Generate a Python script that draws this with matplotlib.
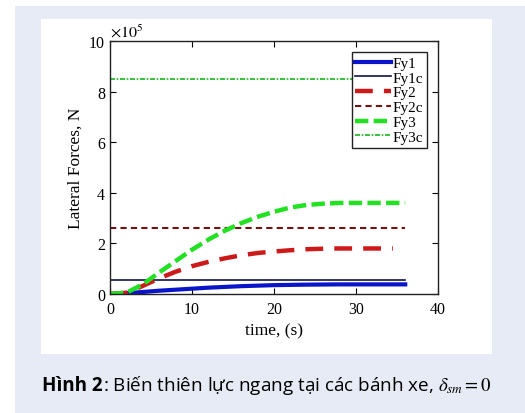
import matplotlib
matplotlib.use('Agg')
import matplotlib.pyplot as plt
from matplotlib.patches import Rectangle
from matplotlib.ticker import FuncFormatter

plt.rcParams['mathtext.fontset'] = 'stix'

# time samples (s) and lateral forces (N)
t = [0, 2, 4, 6, 8, 10, 12, 14, 16, 18, 20, 22, 24, 26, 28, 30, 32, 34, 36]
fy1 = [0, 0.03e5, 0.08e5, 0.13e5, 0.17e5, 0.21e5, 0.25e5, 0.28e5, 0.31e5, 0.33e5,
       0.35e5, 0.36e5, 0.37e5, 0.375e5, 0.38e5, 0.38e5, 0.38e5, 0.38e5, 0.38e5]
fy1c = [0.57e5] * len(t)
t2 = [0, 2, 4, 6, 8, 10, 12, 14, 16, 18, 20, 22, 24, 26, 28, 30, 32, 34.5]
fy2 = [0, 0.05e5, 0.32e5, 0.62e5, 0.88e5, 1.1e5, 1.27e5, 1.41e5, 1.53e5, 1.62e5,
       1.68e5, 1.73e5, 1.77e5, 1.79e5, 1.8e5, 1.8e5, 1.8e5, 1.8e5]
fy2c = [2.6e5] * len(t)
fy3 = [0, 0.05e5, 0.38e5, 0.85e5, 1.3e5, 1.75e5, 2.15e5, 2.5e5, 2.8e5, 3.05e5,
       3.25e5, 3.42e5, 3.52e5, 3.57e5, 3.6e5, 3.6e5, 3.6e5, 3.6e5, 3.6e5]
fy3c = [8.5e5] * len(t)

fig = plt.figure(figsize=(5.25, 4.14), dpi=100)
fig.patch.set_facecolor('white')
W, H = 525, 414
fig.patches.append(Rectangle((15 / W, 0), 1, 1 - 7 / H, transform=fig.transFigure,
                             facecolor='#e7ebf5', edgecolor='none', zorder=-2))
fig.patches.append(Rectangle((41 / W, 1 - 355 / H), 451 / W, 335 / H, transform=fig.transFigure,
                             facecolor='white', edgecolor='none', zorder=-1))

ax = fig.add_axes([110 / W, 1 - 295 / H, 328 / W, 253 / H])
ax.set_zorder(2)
ax.set_facecolor('white')

ax.plot(t, fy1, color='#0a14c8', lw=3.0, label='Fy1')
ax.plot(t, fy1c, color='#12124a', lw=1.2, label='Fy1c')
ax.plot(t2, fy2, color='#cc1a1a', lw=3.2, dashes=(4, 2.5), label='Fy2')
ax.plot(t, fy2c, color='#6e1414', lw=1.5, dashes=(3, 2), label='Fy2c')
ax.plot(t, fy3, color='#22e022', lw=3.2, dashes=(3, 1.2), label='Fy3')
ax.plot(t, fy3c, color='#18b818', lw=1.2, dashes=(3, 1, 1, 1), label='Fy3c')

ax.set_xlim(0, 40)
ax.set_ylim(0, 10e5)
ax.set_xticks([0, 10, 20, 30, 40])
ax.set_yticks([0, 2e5, 4e5, 6e5, 8e5, 10e5])
ax.yaxis.set_major_formatter(FuncFormatter(lambda v, p: f'{v / 1e5:g}'))
ax.tick_params(direction='in', top=True, right=True, length=4, width=0.8,
               labelsize=11.5)
ax.tick_params(axis='x', pad=5)
for lab in ax.get_xticklabels() + ax.get_yticklabels():
    lab.set_family('Liberation Serif')
ax.text(0.0, 1.005, r'$\times10^{5}$', transform=ax.transAxes, fontsize=11.5,
        ha='left', va='bottom')
for s in ax.spines.values():
    s.set_linewidth(1.0)
    s.set_color('#222222')

ax.set_xlabel('time, (s)', family='Liberation Serif', fontsize=12.5, labelpad=4)
ax.set_ylabel('Lateral Forces, N', family='Liberation Serif', fontsize=12.5, labelpad=4)

leg = ax.legend(loc='upper right', prop={'family': 'Liberation Serif', 'size': 11},
                fancybox=False, edgecolor='#222222', framealpha=1,
                handlelength=2.3, handletextpad=0.1, labelspacing=0.07,
                borderpad=0.25, borderaxespad=0.75)
leg.get_frame().set_linewidth(1.0)

# caption: bold part then regular part right after it
bold = fig.text(42 / W, 1 - 386 / H, 'Hình 2', family='Open Sans', fontweight='bold',
                fontsize=13.6, va='center', ha='left')
fig.canvas.draw()
bb = bold.get_window_extent().transformed(fig.transFigure.inverted())
fig.text(bb.x1, 1 - 386 / H, r': Biến thiên lực ngang tại các bánh xe, $\delta_{sm} = 0$',
         family='Open Sans', fontsize=13.6, va='center', ha='left')

fig.savefig('out.png', dpi=100)
